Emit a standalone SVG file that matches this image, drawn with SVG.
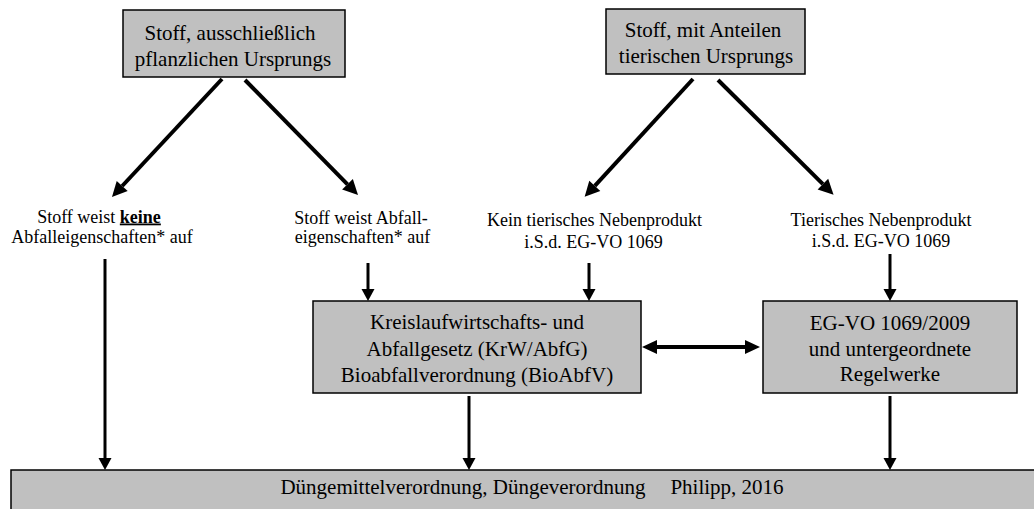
<svg xmlns="http://www.w3.org/2000/svg" width="1034" height="509" viewBox="0 0 1034 509">
<style>
.box{fill:#c0c0c0;stroke:#000;stroke-width:1.5}
.t{font-family:"Liberation Serif","Times New Roman",serif;fill:#000;text-anchor:middle}
.bt{font-size:21px}
.lt{font-size:18px}
.ln{stroke:#000;fill:none}
.v{stroke-width:3}
.d{stroke-width:4}
</style>
<defs>
<marker id="ah" markerUnits="userSpaceOnUse" markerWidth="13" markerHeight="13" refX="0" refY="6.5" orient="auto" overflow="visible">
<path d="M0,0 L12,6.5 L0,13 z" fill="#000"/>
</marker>
<marker id="ahd" markerUnits="userSpaceOnUse" markerWidth="16" markerHeight="16" refX="0" refY="7.5" orient="auto" overflow="visible">
<path d="M0,0 L15,7.5 L0,15 z" fill="#000"/>
</marker>
<marker id="ahs" markerUnits="userSpaceOnUse" markerWidth="16" markerHeight="16" refX="0" refY="7" orient="auto-start-reverse" overflow="visible">
<path d="M0,0 L15,7 L0,14 z" fill="#000"/>
</marker>
</defs>

<g id="n_pflanzlich">
<rect class="box" x="123" y="10" width="222" height="67"/>
<text class="t bt" x="230" y="39.5">Stoff, ausschließlich</text>
<text class="t bt" x="233" y="65.5">pflanzlichen Ursprungs</text>
</g>

<g id="n_tierisch">
<rect class="box" x="606" y="9" width="199" height="65"/>
<text class="t bt" x="703" y="37">Stoff, mit Anteilen</text>
<text class="t bt" x="706" y="63">tierischen Ursprungs</text>
</g>

<g id="n_keine">
<text class="t lt" x="99" y="222.5">Stoff weist <tspan font-weight="bold" text-decoration="underline">keine</tspan></text>
<text class="t lt" x="102" y="242.5">Abfalleigenschaften* auf</text>
</g>

<g id="n_abfall">
<text class="t lt" x="361" y="224">Stoff weist Abfall-</text>
<text class="t lt" x="362.5" y="243">eigenschaften* auf</text>
</g>

<g id="n_kein_nebenprodukt">
<text class="t lt" x="594.5" y="226">Kein tierisches Nebenprodukt</text>
<text class="t lt" x="593.5" y="247.5">i.S.d. EG-VO 1069</text>
</g>

<g id="n_nebenprodukt">
<text class="t lt" x="881" y="225.5">Tierisches Nebenprodukt</text>
<text class="t lt" x="881" y="247">i.S.d. EG-VO 1069</text>
</g>

<g id="n_krw">
<rect class="box" x="313" y="301" width="328" height="92"/>
<text class="t bt" x="477" y="329">Kreislaufwirtschafts- und</text>
<text class="t bt" x="477" y="356">Abfallgesetz (KrW/AbfG)</text>
<text class="t bt" x="477" y="382">Bioabfallverordnung (BioAbfV)</text>
</g>

<g id="n_egvo">
<rect class="box" x="763" y="301" width="254" height="92"/>
<text class="t bt" x="890" y="330">EG-VO 1069/2009</text>
<text class="t bt" x="890" y="356">und untergeordnete</text>
<text class="t bt" x="890" y="381">Regelwerke</text>
</g>

<g id="n_duenge">
<rect class="box" x="11" y="470" width="1030" height="45"/>
<text class="t bt" y="494"><tspan x="463">Düngemittelverordnung, Düngeverordnung</tspan><tspan x="727">Philipp, 2016</tspan></text>
</g>

<g id="connectors">
<line class="ln d" x1="222" y1="79" x2="122.2" y2="186" marker-end="url(#ahd)"/>
<line class="ln d" x1="245" y1="80" x2="347.5" y2="184.3" marker-end="url(#ahd)"/>
<line class="ln d" x1="693" y1="79" x2="594.8" y2="185.8" marker-end="url(#ahd)"/>
<line class="ln d" x1="718" y1="80" x2="822.9" y2="184.1" marker-end="url(#ahd)"/>
<line class="ln v" x1="105" y1="259" x2="105" y2="458" marker-end="url(#ah)"/>
<line class="ln v" x1="368" y1="263" x2="368" y2="289" marker-end="url(#ah)"/>
<line class="ln v" x1="589" y1="263" x2="589" y2="289" marker-end="url(#ah)"/>
<line class="ln v" x1="890" y1="254" x2="890" y2="289" marker-end="url(#ah)"/>
<line class="ln v" x1="469" y1="396" x2="469" y2="458" marker-end="url(#ah)"/>
<line class="ln v" x1="890" y1="396" x2="890" y2="458" marker-end="url(#ah)"/>
<line class="ln d" x1="657" y1="347" x2="745" y2="347" marker-start="url(#ahs)" marker-end="url(#ahs)"/>
</g>
</svg>
